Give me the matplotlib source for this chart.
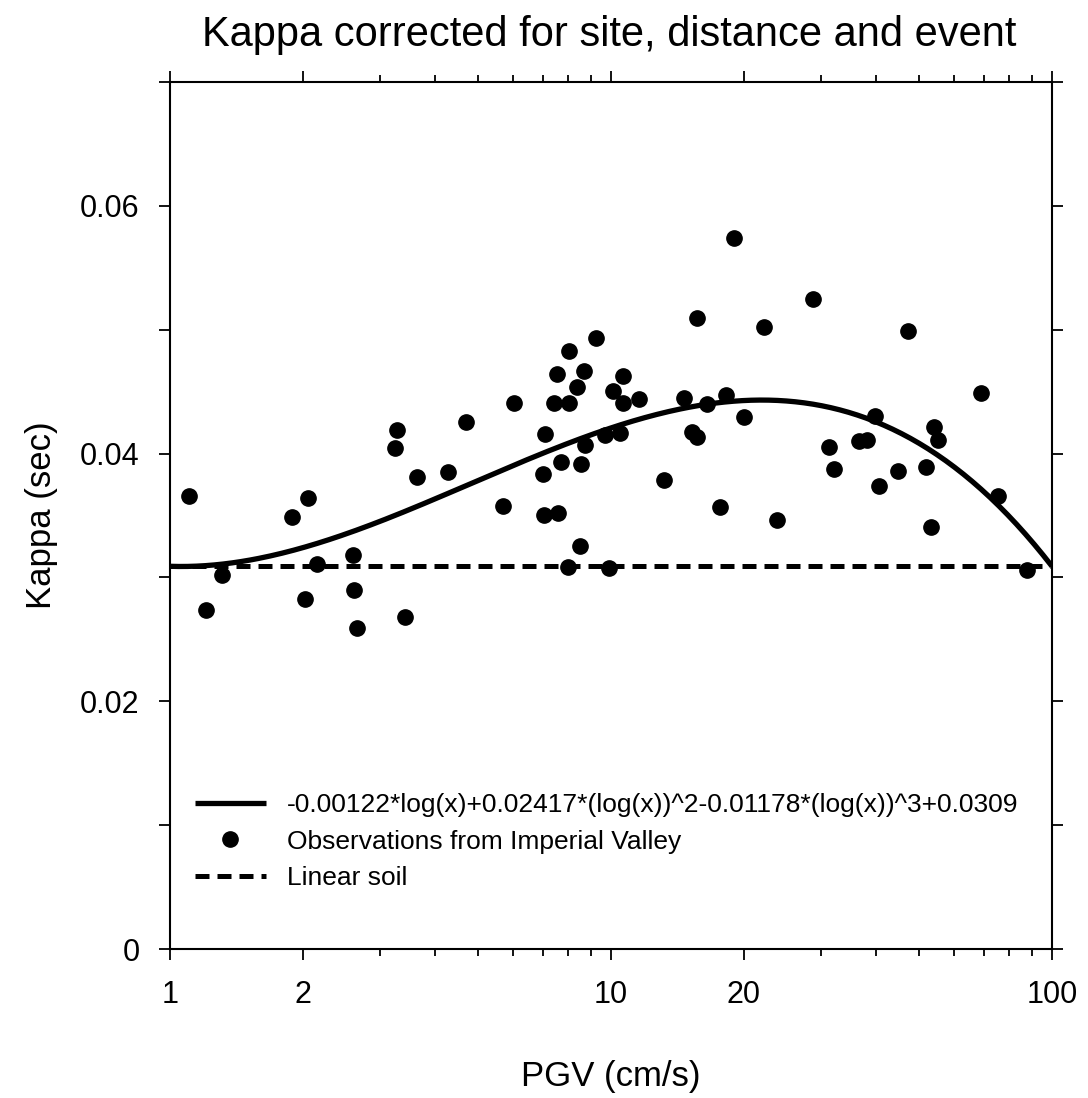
import numpy as np
import matplotlib
matplotlib.use('Agg')
from matplotlib import pyplot as plt
from matplotlib.ticker import FixedLocator, NullFormatter

plt.rcParams['font.family'] = ['Liberation Sans', 'DejaVu Sans']

# observaciones de Imperial Valley (PGV en cm/s, kappa en s)
pgv_obs = [1.106, 1.207, 1.310, 1.895, 2.054, 2.028, 2.160, 2.607, 2.617, 2.662,
           3.237, 3.271, 3.403, 3.631, 4.277, 4.699, 5.691, 6.039, 8.023, 9.238,
           7.548, 8.675, 8.381, 7.416, 8.052, 10.09, 10.67, 10.67, 11.59, 7.090,
           8.719, 9.716, 10.51, 7.719, 8.570, 7.016, 7.064, 7.572, 8.527, 7.981,
           9.886, 13.16, 14.61, 15.29, 15.69, 16.48, 18.22, 20.02, 17.66, 23.76,
           22.23, 15.64, 19.00, 28.66, 47.11, 68.88, 39.71, 54.06, 55.19, 31.22,
           36.51, 38.15, 32.12, 44.78, 51.76, 40.49, 75.52, 53.21, 87.6]
kappa_obs = [0.03660, 0.02737, 0.03020, 0.03490, 0.03639, 0.02826, 0.03108, 0.03183, 0.02898, 0.02594,
             0.04042, 0.04190, 0.02678, 0.03813, 0.03849, 0.04257, 0.03577, 0.04406, 0.04830, 0.04935,
             0.04640, 0.04667, 0.04540, 0.04406, 0.04406, 0.04508, 0.04629, 0.04406, 0.04438, 0.04158,
             0.04069, 0.04150, 0.04168, 0.03934, 0.03916, 0.03835, 0.03504, 0.03522, 0.03254, 0.03082,
             0.03079, 0.03787, 0.04449, 0.04177, 0.04131, 0.04400, 0.04470, 0.04293, 0.03566, 0.03464,
             0.05019, 0.05092, 0.05738, 0.05245, 0.04987, 0.04487, 0.04303, 0.04217, 0.04110, 0.04055,
             0.04104, 0.04110, 0.03873, 0.03862, 0.03894, 0.03738, 0.03657, 0.03410, 0.03060]

# coeficientes del ajuste (ver leyenda): c0 + c1*log + c2*log^2 + c3*log^3
fit_coefs = [0.0309, -0.00122, 0.02417, -0.01178]
fit_label = '-0.00122*log(x)+0.02417*(log(x))^2-0.01178*(log(x))^3+0.0309'

# suelo lineal
linear_x = [1, 100]
linear_y = [0.0309, 0.0309]

x_ticks = [1, 2, 10, 20, 100]
x_minor = [3, 4, 5, 6, 7, 8, 9, 30, 40, 50, 60, 70, 80, 90]
y_ticks = [0, 0.02, 0.04, 0.06]
y_labels = ['0', '0.02', '0.04', '0.06']
y_minor = [0.01, 0.03, 0.05, 0.07]

fig = plt.figure(figsize=(10.88, 10.98), dpi=100)
ax = fig.add_axes([0.1562, 0.1357, 0.8107, 0.7896])

xx = np.logspace(0, 2, 300)
lx = np.log10(xx)
yy = fit_coefs[0] + fit_coefs[1]*lx + fit_coefs[2]*lx**2 + fit_coefs[3]*lx**3

ax.plot(xx, yy, color='black', lw=3.8, label=fit_label, solid_capstyle='butt')
ax.plot(pgv_obs, kappa_obs, 'o', color='black', ms=11, label='Observations from Imperial Valley')
ax.plot(linear_x, linear_y, color='black', lw=3.6, dashes=(2.8, 1.6), label='Linear soil')

ax.set_xscale('log')
ax.set_xlim(1, 100)
ax.set_ylim(0, 0.07)

ax.xaxis.set_major_locator(FixedLocator(x_ticks))
ax.xaxis.set_minor_locator(FixedLocator(x_minor))
ax.set_xticklabels([str(t) for t in x_ticks])
ax.xaxis.set_minor_formatter(NullFormatter())
ax.yaxis.set_major_locator(FixedLocator(y_ticks))
ax.yaxis.set_minor_locator(FixedLocator(y_minor))
ax.set_yticklabels(y_labels)

ax.tick_params(which='both', direction='out', top=True, right=True, width=1.3, labelsize=22, color='black')
ax.tick_params(which='major', length=8, pad=14)
ax.tick_params(which='minor', length=5)
ax.tick_params(axis='y', which='minor', length=8)
for s in ax.spines.values():
    s.set_linewidth(1.5)

ax.set_xlabel('PGV (cm/s)', fontsize=25, labelpad=36)
ax.set_ylabel('Kappa (sec)', fontsize=25, labelpad=16)
fig.text(0.56, 0.968, 'Kappa corrected for site, distance and event', fontsize=30, ha='center', va='center')

ax.legend(loc='upper left', bbox_to_anchor=(0.028, 0.18), frameon=False, fontsize=19,
          handlelength=2.7, handletextpad=0.8, labelspacing=0.48, numpoints=1,
          borderpad=0, borderaxespad=0)

fig.savefig('out.png', dpi=100)
